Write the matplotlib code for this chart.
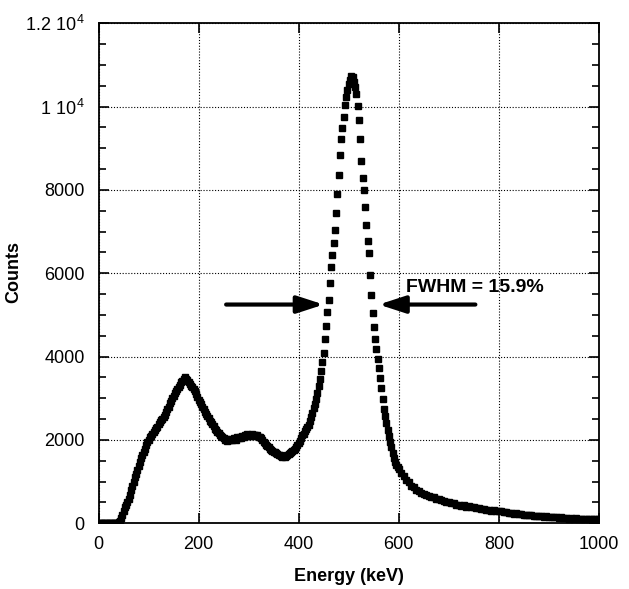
import numpy as np
import matplotlib
matplotlib.use("Agg")
import matplotlib.pyplot as plt
from matplotlib.ticker import MultipleLocator

plt.rcParams["font.family"] = ["Liberation Sans", "DejaVu Sans"]
plt.rcParams["mathtext.fontset"] = "custom"
plt.rcParams["mathtext.rm"] = "Liberation Sans"
plt.rcParams["mathtext.bf"] = "Liberation Sans:bold"

### Data

# 2.5 keV channels from 0 to 600 keV
energy_low = np.arange(0, 600.1, 2.5)
counts_low = [
    0, 0, 0, 0, 0, 0, 0, 0, 0, 0, 0, 0, 0, 0, 0, 0,
    20, 60, 130, 210,
    290, 380, 440, 500,
    580, 680, 790, 900,
    1000, 1100, 1190, 1290,
    1380, 1470, 1560, 1640,
    1720, 1790, 1870, 1940,
    2000, 2060, 2100, 2150,
    2190, 2240, 2280, 2320,
    2380, 2420, 2470, 2500,
    2560, 2600, 2680, 2740,
    2800, 2880, 2930, 3000,
    3050, 3120, 3180, 3230,
    3280, 3330, 3380, 3420,
    3460, 3500, 3460, 3440,
    3390, 3350, 3300, 3260,
    3220, 3170, 3100, 3040,
    2950, 2900, 2860, 2800,
    2740, 2680, 2620, 2570,
    2520, 2460, 2420, 2380,
    2330, 2270, 2240, 2200,
    2160, 2120, 2090, 2060,
    2040, 2010, 2020, 1980,
    2010, 1990, 2030, 2000,
    2050, 2020, 1990, 2060,
    2040, 2080, 2050, 2100,
    2070, 2110, 2090, 2140,
    2100, 2120, 2090, 2150,
    2110, 2130, 2090, 2120,
    2080, 2060, 2040, 1990,
    1960, 1920, 1890, 1850,
    1820, 1780, 1760, 1740,
    1720, 1700, 1680, 1660,
    1650, 1630, 1620, 1600,
    1610, 1590, 1620, 1640,
    1660, 1680, 1700, 1740,
    1760, 1790, 1830, 1880,
    1920, 1980, 2040, 2110,
    2150, 2210, 2260, 2310,
    2360, 2450, 2550, 2650,
    2760, 2870, 2990, 3130,
    3290, 3460, 3650, 3860,
    4080, 4420, 4740, 5070,
    5360, 5760, 6140, 6440,
    6720, 7050, 7440, 7900,
    8370, 8840, 9220, 9480,
    9760, 10040, 10240, 10400,
    10540, 10650, 10740, 10710,
    10600, 10460, 10300, 10020,
    9680, 9220, 8700, 8280,
    8000, 7600, 7150, 6780,
    6480, 5950, 5470, 5050,
    4720, 4430, 4180, 3950,
    3720, 3490, 3240, 2990,
    2750, 2580, 2410, 2250,
    2100, 1950, 1820, 1680,
    1560, 1480, 1410, 1350,
    1300,
]

# 5 keV channels in the tail
energy_tail = np.arange(605, 1000.1, 5)
counts_tail = [
    1210, 1130, 1030, 980, 900, 860, 790, 780, 720, 710,
    670, 660, 630, 620, 590, 580, 550, 540, 510, 510,
    480, 480, 450, 450, 420, 430, 400, 410, 380, 390,
    360, 360, 335, 345, 315, 325, 300, 310, 285, 300,
    290, 265, 270, 245, 255, 235, 240, 215, 225, 205,
    210, 190, 200, 180, 185, 165, 175, 155, 165, 145,
    155, 140, 145, 125, 140, 120, 130, 115, 125, 110,
    120, 105, 115, 100, 110, 95, 105, 95, 100, 95,
]

x_ticks = [0, 200, 400, 600, 800, 1000]
y_ticks = [0, 2000, 4000, 6000, 8000, 10000, 12000]
y_tick_labels = ["0", "2000", "4000", "6000", "8000",
                 r"$\mathregular{1\ 10^{4}}$", r"$\mathregular{1.2\ 10^{4}}$"]

fwhm_level = 5250
fwhm_left = (255, 450)
fwhm_right = (753, 560)

energy = np.concatenate([energy_low, energy_tail])
counts = np.array(counts_low + counts_tail)

### Figure
fig = plt.figure(figsize=(6.29, 5.89), dpi=100)
ax = fig.add_axes([0.1566, 0.1115, 0.7957, 0.849])

ax.plot(energy, counts, linestyle="none", marker="s", ms=3.8,
        color="black", mec="black", zorder=3)

ax.set_xlim(0, 1000)
ax.set_ylim(0, 12000)
ax.set_xticks(x_ticks)
ax.set_yticks(y_ticks, y_tick_labels)
ax.yaxis.set_minor_locator(MultipleLocator(500))

ax.grid(True, which="major", color="black", linestyle=(0, (1, 1.6)), lw=0.8)
for s in ax.spines.values():
    s.set_linewidth(1.3)

ax.tick_params(which="both", direction="in", top=True, right=True,
               labelsize=13, width=1.2)
ax.tick_params(which="major", length=7)
ax.tick_params(which="minor", length=5)
ax.tick_params(axis="x", pad=9)
ax.tick_params(axis="y", pad=10)

# FWHM arrows
for start, end in [fwhm_left, fwhm_right]:
    ax.annotate("", xy=(end, fwhm_level), xytext=(start, fwhm_level),
                arrowprops=dict(arrowstyle="-|>,head_length=0.8,head_width=0.26",
                                lw=3, color="black", mutation_scale=20,
                                shrinkA=0, shrinkB=0))

ax.text(615, 5650, "FWHM = 15.9%", fontsize=14, fontweight="bold",
        ha="left", va="center")

fig.text(0.554, 0.022, "Energy (keV)", fontsize=13, fontweight="bold",
         ha="center", va="center")
fig.text(0.022, 0.538, "Counts", fontsize=13, fontweight="bold",
         ha="center", va="center", rotation=90)

fig.savefig("out.png", dpi=100)
